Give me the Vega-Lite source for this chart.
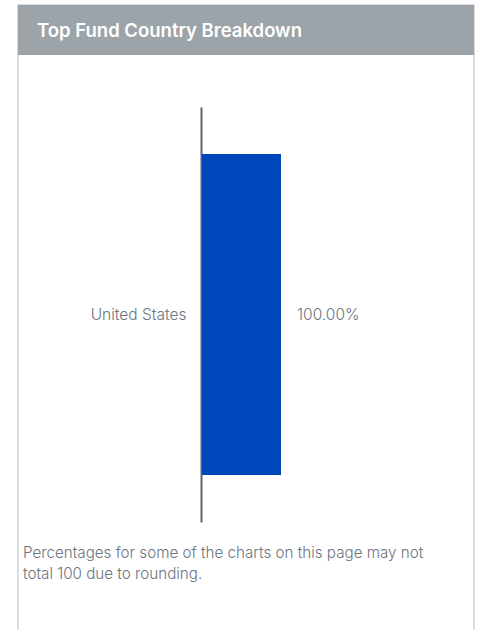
{
  "$schema": "https://vega.github.io/schema/vega-lite/v6.json",
  "width": 456,
  "height": 632,
  "autosize": {"type": "none"},
  "padding": {"left": 18, "top": 5, "right": 5, "bottom": 0},
  "background": "white",
  "config": {
    "view": {"stroke": "#cdd0d4", "strokeWidth": 1.5, "fill": "white"},
    "font": "Inter"
  },
  "layer": [
    {
      "data": {"values": [{"title": "Top Fund Country Breakdown"}]},
      "mark": {"type": "rect", "color": "#9ca3a9"},
      "encoding": {
        "x": {"value": 0},
        "x2": {"value": "width"},
        "y": {"value": 0},
        "y2": {"value": 50}
      }
    },
    {
      "data": {"values": [{"title": "Top Fund Country Breakdown"}]},
      "mark": {"type": "text", "align": "left", "baseline": "alphabetic", "color": "white", "fontSize": 18.5, "fontWeight": 600, "font": "Inter"},
      "encoding": {
        "text": {"field": "title"},
        "x": {"value": 19},
        "y": {"value": 32}
      }
    },
    {
      "data": {"values": [{"country": "United States", "share": 1.0}]},
      "layer": [
        {
          "mark": {"type": "bar", "color": "#0047bb"},
          "encoding": {
            "y": {
              "field": "country",
              "type": "nominal",
              "scale": {"range": [102, 517], "paddingInner": 0.226, "paddingOuter": 0.113},
              "axis": {
                "title": null,
                "offset": -183,
                "ticks": false,
                "domainColor": "#5c6570",
                "domainWidth": 2,
                "labelPadding": 15,
                "labelFontSize": 15.5,
                "labelColor": "#6b7480",
                "labelFont": "Inter",
                "labelFontWeight": 300,
                "grid": false
              }
            },
            "x": {
              "field": "share",
              "type": "quantitative",
              "scale": {"domain": [0, 1], "range": [184, 263]},
              "axis": null
            }
          }
        },
        {
          "mark": {"type": "text", "align": "left", "dx": 16, "fontSize": 15.5, "fontWeight": 300, "color": "#6b7480", "font": "Inter"},
          "encoding": {
            "y": {"field": "country", "type": "nominal"},
            "x": {"field": "share", "type": "quantitative"},
            "text": {"field": "share", "type": "quantitative", "format": ".2%"}
          }
        }
      ]
    },
    {
      "data": {"values": [{"note": "Percentages for some of the charts on this page may not\ntotal 100 due to rounding."}]},
      "mark": {"type": "text", "align": "left", "baseline": "alphabetic", "lineBreak": "\n", "lineHeight": 21, "fontSize": 15.2, "fontWeight": 300, "color": "#6b7480", "font": "Inter"},
      "encoding": {
        "text": {"field": "note"},
        "x": {"value": 5},
        "y": {"value": 553}
      }
    }
  ]
}
